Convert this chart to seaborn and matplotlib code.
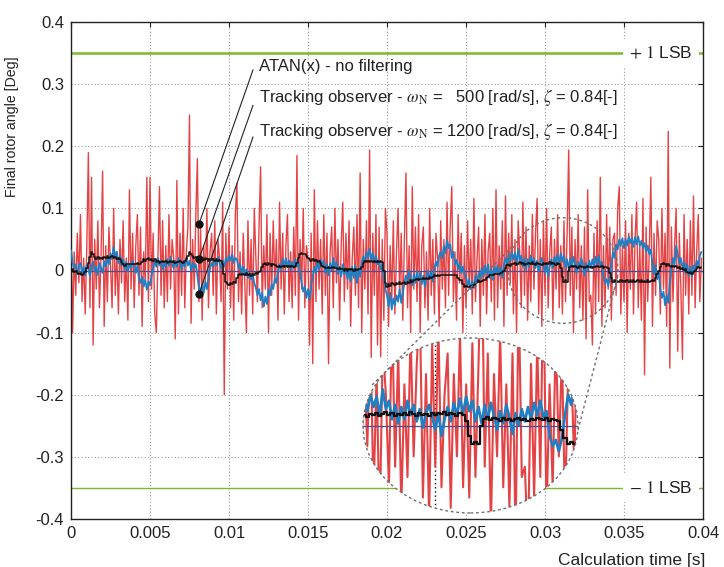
import numpy as np
import pandas as pd
import matplotlib
matplotlib.use("Agg")
import matplotlib.pyplot as plt
import seaborn as sns
from matplotlib.patches import Ellipse
from matplotlib.lines import Line2D

# ---------------- data (one row = 1 ms, 0.1 ms samples) -------------
atan_no_filter = [
    0.07, -0.10, 0.03, -0.04, 0.06, -0.02, 0.09, -0.05, 0.02, -0.07,
    0.04, 0.19, -0.06, 0.15, -0.12, 0.05, -0.03, 0.08, -0.06, 0.02,
    0.16, -0.09, 0.04, -0.05, 0.07, 0.01, -0.06, 0.10, -0.04, 0.03,
    -0.07, 0.05, -0.02, 0.08, -0.05, 0.02, -0.08, 0.13, -0.03, 0.06,
    -0.06, 0.04, 0.09, -0.04, 0.07, -0.09, 0.03, -0.02, 0.15, -0.05,
    0.15, -0.03, 0.06, -0.07, -0.10, 0.02, 0.135, -0.04, 0.08, -0.06,
    0.04, -0.05, 0.09, -0.03, 0.05, 0.02, -0.11, 0.145, -0.07, 0.06,
    -0.04, 0.10, -0.06, 0.03, 0.07, 0.25, -0.085, 0.05, -0.03, 0.09,
    0.18, -0.05, 0.07, -0.08, 0.04, -0.02, 0.10, -0.06, 0.03, 0.06,
    -0.04, 0.08, -0.07, 0.05, 0.02, -0.05, 0.11, -0.20, 0.06, -0.03,
    0.07, -0.06, 0.04, -0.08, 0.09, 0.14, -0.05, 0.03, -0.07, 0.06,
    -0.02, -0.10, 0.08, -0.04, 0.05, -0.07, 0.10, 0.02, -0.05, 0.07,
    0.167, -0.06, 0.04, -0.03, 0.09, -0.10, 0.06, -0.04, 0.08, -0.02,
    0.05, -0.08, 0.11, -0.03, 0.06, -0.07, 0.04, 0.09, -0.05, 0.03,
    -0.06, 0.07, -0.04, 0.185, -0.08, 0.05, -0.03, 0.10, -0.06, 0.04,
    0.02, -0.12, 0.06, -0.15, 0.13, -0.05, 0.08, -0.03, 0.05, -0.07,
    0.09, -0.04, 0.06, -0.15, 0.03, 0.07, -0.06, 0.10, -0.02, 0.05,
    -0.08, 0.04, 0.11, -0.05, 0.06, -0.03, 0.08, -0.09, 0.02, 0.07,
    -0.04, 0.09, -0.06, 0.157, -0.10, 0.05, -0.03, 0.08, -0.07, 0.194,
    -0.14, 0.06, -0.04, 0.09, -0.12, 0.07, -0.139, 0.05, -0.08, 0.10,
    0.06, -0.09, 0.04, -0.05, 0.08, -0.07, 0.03, 0.10, -0.04, 0.06,
    -0.08, 0.05, 0.157, -0.06, 0.04, -0.10, 0.135, -0.03, 0.07, -0.05,
    0.09, -0.10, 0.04, 0.07, -0.06, 0.03, -0.08, 0.10, -0.04, 0.05,
    -0.07, 0.06, 0.02, -0.09, 0.08, -0.03, 0.05, -0.06, 0.11, -0.04,
    0.07, 0.135, -0.05, 0.03, -0.08, 0.09, -0.02, 0.06, -0.10, 0.04,
    -0.06, 0.08, -0.03, 0.05, -0.07, 0.116, -0.05, 0.02, 0.07, -0.09,
    0.05, -0.04, 0.09, -0.07, 0.03, 0.06, -0.05, 0.10, -0.08, 0.13,
    -0.06, 0.04, -0.03, 0.08, -0.09, 0.12, -0.04, 0.06, -0.02, 0.09,
    -0.07, 0.05, -0.10, 0.08, 0.03, -0.06, 0.11, -0.04, 0.07, -0.08,
    0.04, -0.05, 0.09, -0.03, 0.06, 0.116, -0.07, 0.05, -0.09, 0.08,
    -0.04, 0.10, -0.06, 0.03, 0.07, -0.08, 0.05, -0.03, 0.09, -0.06,
    0.04, -0.07, 0.08, -0.05, 0.06, 0.194, -0.04, 0.07, -0.10, 0.05,
    -0.03, 0.09, -0.06, 0.04, -0.08, 0.07, -0.11, 0.13, -0.05, -0.04,
    -0.12, 0.06, -0.07, 0.08, -0.05, 0.15, -0.09, 0.04, -0.06, 0.09,
    -0.03, 0.07, -0.08, 0.05, 0.06, -0.04, 0.10, 0.135, -0.07, 0.04,
    -0.05, 0.08, -0.10, 0.06, -0.03, 0.09, -0.07, 0.05, 0.11, -0.06,
    0.04, -0.08, 0.116, -0.168, 0.07, -0.05, 0.03, 0.15, -0.09, 0.06,
    -0.04, 0.08, 0.05, -0.07, 0.10, -0.03, 0.06, -0.09, 0.224, -0.157,
    0.07, -0.05, 0.04, 0.10, -0.13, 0.06, -0.03, -0.143, 0.09, -0.04,
    0.05, -0.07, 0.08, -0.04, 0.12, -0.06, 0.03, 0.09, -0.05, 0.02,
]

observer_1200 = [
    0.033, 0.012, 0.004, 0.010, -0.006, 0.008, 0.012, -0.004, 0.006, -0.008,
    0.010, 0.002, -0.009, 0.008, 0.014, -0.002, 0.006, -0.007, 0.012, 0.004,
    -0.004, 0.015, 0.006, 0.020, 0.010, 0.028, 0.018, 0.038, 0.022, 0.030,
    0.012, 0.024, 0.008, 0.018, 0.002, 0.014, -0.002, 0.010, 0.004, 0.016,
    0.006, -0.004, 0.008, -0.012, -0.020, -0.010, -0.026, -0.015, -0.031, -0.018,
    -0.024, -0.008, 0.004, 0.015, 0.006, 0.020, 0.008, 0.016, 0.002, 0.012,
    0.005, 0.018, 0.008, 0.022, 0.010, 0.004, 0.016, 0.006, 0.020, 0.012,
    0.002, 0.014, 0.006, 0.020, 0.008, 0.016, 0.000, 0.012, 0.004, 0.010,
    -0.008, -0.030, -0.038, -0.022, -0.036, -0.018, -0.030, -0.010, 0.004, 0.012,
    0.006, 0.018, 0.008, 0.022, 0.012, 0.004, 0.016, 0.006, 0.020, 0.014,
    0.024, 0.016, 0.026, 0.012, 0.020, 0.018, 0.004, 0.010, -0.004, 0.006,
    -0.008, 0.002, -0.012, -0.004, -0.014, -0.006, -0.020, -0.028, -0.040, -0.030,
    -0.048, -0.036, -0.058, -0.042, -0.054, -0.030, -0.040, -0.022, -0.030, -0.012,
    -0.020, -0.004, 0.010, 0.002, 0.018, 0.008, 0.020, 0.006, 0.016, 0.002,
    0.014, 0.004, 0.018, 0.006, 0.012, -0.004, -0.020, -0.034, -0.026, -0.044,
    -0.030, -0.047, -0.024, -0.010, 0.006, -0.004, 0.014, 0.002, 0.018, 0.006,
    0.016, -0.004, 0.010, -0.008, 0.012, 0.000, 0.020, 0.004, 0.014, -0.006,
    0.006, -0.010, 0.010, -0.006, 0.004, -0.014, 0.002, -0.018, 0.006, -0.012,
    0.008, -0.020, 0.004, -0.010, 0.012, 0.022, 0.014, 0.030, 0.020, 0.035,
    0.018, 0.028, 0.012, 0.024, 0.010, 0.016, 0.002, 0.010, -0.010, -0.030,
    -0.040, -0.058, -0.036, -0.063, -0.045, -0.056, -0.040, -0.050, -0.030, -0.052,
    -0.036, -0.020, -0.008, -0.018, 0.000, -0.012, -0.024, -0.006, -0.020, -0.002,
    -0.016, -0.004, -0.022, -0.008, -0.026, -0.010, 0.000, -0.014, -0.002, -0.018,
    0.004, 0.014, 0.006, 0.024, 0.030, 0.020, 0.040, 0.028, 0.049, 0.036,
    0.042, 0.020, 0.030, 0.010, 0.017, 0.002, 0.012, -0.004, 0.006, -0.006,
    -0.010, -0.024, -0.014, -0.030, -0.018, -0.028, -0.008, -0.020, -0.004, -0.014,
    0.004, -0.010, 0.008, -0.006, 0.010, -0.012, 0.002, -0.015, 0.006, -0.004,
    0.008, -0.008, 0.004, -0.012, 0.010, 0.020, 0.008, 0.026, 0.014, 0.030,
    0.018, 0.028, 0.010, 0.035, 0.016, 0.024, 0.006, 0.020, 0.002, 0.018,
    0.006, 0.024, 0.010, 0.020, 0.004, 0.016, -0.002, 0.012, 0.020, 0.008,
    -0.004, 0.012, -0.010, 0.006, 0.018, 0.004, 0.022, 0.010, 0.026, 0.012,
    0.028, 0.014, 0.024, 0.004, 0.018, 0.002, 0.020, 0.006, 0.022, 0.010,
    -0.004, 0.014, 0.002, 0.020, 0.008, -0.008, 0.012, 0.000, 0.016, 0.004,
    0.018, 0.006, 0.022, 0.010, 0.024, 0.008, 0.014, -0.010, -0.020, -0.014,
    -0.025, -0.012, 0.010, 0.030, 0.020, 0.042, 0.034, 0.050, 0.040, 0.052,
    0.036, 0.050, 0.040, 0.055, 0.044, 0.052, 0.038, 0.054, 0.042, 0.055,
    0.040, 0.048, 0.036, 0.044, 0.030, 0.040, 0.026, 0.034, 0.010, -0.006,
    0.008, -0.014, -0.004, -0.030, -0.044, -0.034, -0.056, -0.040, -0.052, -0.020,
    0.004, 0.020, 0.010, 0.040, 0.026, 0.012, 0.020, 0.004, 0.014, -0.004,
    0.010, -0.008, 0.006, -0.010, 0.008, 0.002, 0.016, 0.006, 0.024, 0.030,
]

observer_500 = [
    0.000, 0.002, -0.002, 0.000, -0.004, -0.006, -0.004, -0.007, -0.005, -0.002,
    0.004, 0.012, 0.022, 0.029, 0.026, 0.022, 0.019, 0.021, 0.018, 0.020,
    0.019, 0.022, 0.020, 0.023, 0.020, 0.021, 0.024, 0.020, 0.022, 0.019,
    0.020, 0.018, 0.014, 0.010, 0.008, 0.010, 0.010, 0.010, 0.010, 0.010,
    0.010, 0.010, 0.012, 0.010, 0.010, 0.014, 0.018, 0.016, 0.018, 0.020,
    0.017, 0.019, 0.016, 0.018, 0.014, 0.016, 0.012, 0.014, 0.016, 0.013,
    0.015, 0.012, 0.014, 0.016, 0.013, 0.015, 0.012, 0.014, 0.013, 0.016,
    0.014, 0.012, 0.015, 0.018, 0.024, 0.030, 0.027, 0.024, 0.020, 0.022,
    0.019, 0.021, 0.018, 0.020, 0.017, 0.020, 0.018, 0.016, 0.019, 0.017,
    0.019, 0.016, 0.018, 0.015, 0.017, 0.016, 0.010, -0.006, -0.018, -0.022,
    -0.024, -0.020, -0.022, -0.018, -0.020, -0.012, -0.008, -0.006, -0.008, -0.005,
    -0.007, -0.004, -0.008, -0.006, -0.009, -0.006, -0.008, -0.004, -0.006, -0.003,
    0.000, 0.006, 0.010, 0.012, 0.009, 0.012, 0.010, 0.008, 0.011, 0.009,
    0.008, 0.006, 0.008, 0.006, 0.007, 0.005, 0.007, 0.006, 0.008, 0.006,
    0.007, 0.005, 0.008, 0.012, 0.020, 0.026, 0.028, 0.026, 0.027, 0.024,
    0.020, 0.018, 0.016, 0.018, 0.015, 0.017, 0.014, 0.016, 0.012, 0.008,
    0.005, 0.004, 0.004, 0.006, 0.004, 0.004, 0.005, 0.004, 0.004, 0.003,
    0.004, 0.002, 0.003, 0.000, 0.002, 0.000, 0.003, 0.001, 0.002, 0.000,
    0.002, 0.001, 0.003, 0.002, 0.006, 0.012, 0.015, 0.014, 0.016, 0.014,
    0.015, 0.013, 0.016, 0.014, 0.015, 0.013, 0.015, 0.014, 0.000, -0.020,
    -0.026, -0.022, -0.025, -0.020, -0.022, -0.024, -0.020, -0.022, -0.019, -0.021,
    -0.020, -0.018, -0.021, -0.019, -0.020, -0.016, -0.018, -0.015, -0.016, -0.014,
    -0.015, -0.013, -0.014, -0.012, -0.014, -0.012, -0.013, -0.011, -0.012, -0.010,
    -0.008, -0.009, -0.007, -0.009, -0.007, -0.008, -0.007, -0.008, -0.007, -0.008,
    -0.007, -0.008, -0.007, -0.008, -0.007, -0.012, -0.016, -0.015, -0.022, -0.026,
    -0.025, -0.027, -0.026, -0.025, -0.027, -0.024, -0.020, -0.018, -0.016, -0.018,
    -0.017, -0.015, -0.016, -0.012, -0.010, -0.008, -0.007, -0.008, -0.006, -0.005,
    -0.006, -0.005, -0.004, -0.002, 0.000, 0.004, 0.009, 0.010, 0.008, 0.011,
    0.010, 0.012, 0.009, 0.011, 0.013, 0.010, 0.012, 0.009, 0.011, 0.010,
    0.012, 0.010, 0.013, 0.011, 0.009, 0.012, 0.010, 0.011, 0.009, 0.012,
    0.010, 0.012, 0.011, 0.013, 0.010, 0.012, 0.011, 0.009, 0.012, 0.010,
    0.004, -0.010, -0.018, -0.016, -0.018, 0.000, 0.006, 0.008, 0.005, 0.007,
    0.006, 0.004, 0.007, 0.005, 0.006, 0.004, 0.006, 0.007, 0.005, 0.006,
    0.004, 0.006, 0.005, 0.007, 0.006, 0.005, 0.007, 0.004, 0.006, 0.005,
    0.004, -0.004, -0.012, -0.018, -0.016, -0.018, -0.017, -0.019, -0.016, -0.018,
    -0.017, -0.019, -0.016, -0.018, -0.015, -0.018, -0.016, -0.019, -0.017, -0.015,
    -0.018, -0.016, -0.019, -0.017, -0.018, -0.016, -0.018, -0.017, -0.015, -0.017,
    -0.012, -0.006, 0.000, 0.006, 0.010, 0.012, 0.010, 0.008, 0.010, 0.008,
    0.006, 0.008, 0.005, 0.007, 0.004, 0.006, 0.002, 0.004, 0.001, 0.003,
    -0.002, -0.004, -0.003, -0.005, -0.002, 0.000, 0.003, 0.005, 0.004, 0.006,
]

sample_period_s = 1e-4
time_s = np.arange(len(atan_no_filter)) * sample_period_s

x_ticks = [0, 0.005, 0.01, 0.015, 0.02, 0.025, 0.03, 0.035, 0.04]
x_tick_labels = ["0", "0.005", "0.01", "0.015", "0.02", "0.025", "0.03", "0.035", "0.04"]
y_ticks = [-0.4, -0.3, -0.2, -0.1, 0, 0.1, 0.2, 0.3, 0.4]
y_tick_labels = ["-0.4", "-0.3", "-0.2", "-0.1", "0", "0.1", "0.2", "0.3", "0.4"]
lsb_level = 0.35

series_labels = [
    "ATAN(x) - no filtering",
    r"Tracking observer - $\omega_{\mathrm{N}}$ =   500 [rad/s], $\zeta$ = 0.84[-]",
    r"Tracking observer - $\omega_{\mathrm{N}}$ = 1200 [rad/s], $\zeta$ = 0.84[-]",
]
marker_time = 0.0081
marker_values = [0.0749, 0.0185, -0.0378]

# zoom window (small dashed circle)
zoom_center_t = 0.03114
zoom_half_t = 0.00348
zoom_half_v = 0.085

# ---------------- style -------------
sns.set_theme(style="white")
plt.rcParams["font.family"] = ["Liberation Sans", "DejaVu Sans"]
plt.rcParams["mathtext.fontset"] = "stix"
plt.rcParams["axes.unicode_minus"] = False

RED = "#e3393b"
BLUE = "#1f7fc4"
BLACK = "#111111"
ZERO = "#4b4b95"
GREEN = "#7cb82a"

df = pd.DataFrame({"t": time_s, "atan": atan_no_filter,
                   "obs500": observer_500, "obs1200": observer_1200})

W, H = 724, 567
fig = plt.figure(figsize=(W / 100, H / 100), dpi=100)
ax = fig.add_axes([71 / W, 1 - 519 / H, 632 / W, 497 / H])


def draw_series(a, scale=1.0):
    sns.lineplot(data=df, x="t", y="atan", ax=a, color=RED, linewidth=1.0 * scale,
                 estimator=None, sort=False, zorder=2, alpha=0.95)
    a.axhline(0, color=ZERO, lw=0.9, zorder=3)
    sns.lineplot(data=df, x="t", y="obs1200", ax=a, color=BLUE, linewidth=1.3 * scale,
                 estimator=None, sort=False, zorder=4)
    sns.lineplot(data=df, x="t", y="obs500", ax=a, color=BLACK, linewidth=1.1 * scale,
                 estimator=None, sort=False, zorder=5, drawstyle="steps-mid")


draw_series(ax)

ax.set_xlim(0, 0.04)
ax.set_ylim(-0.4, 0.4)
ax.set_xticks(x_ticks)
ax.set_xticklabels(x_tick_labels)
ax.set_yticks(y_ticks)
ax.set_yticklabels(y_tick_labels)
ax.tick_params(direction="in", length=3.5, width=0.8, top=True, right=True,
               labelsize=12, colors="#222222", pad=5)
ax.grid(True, color="#9a9a9a", ls=(0, (1, 2)), lw=0.8, zorder=0)
for s in ax.spines.values():
    s.set_color("#222222")
    s.set_linewidth(1.0)

ax.set_xlabel("Calculation time [s]", fontsize=12.5, color="#222222", ha="right")
ax.xaxis.set_label_coords(1.003, -0.068)
ax.set_ylabel("Final rotor angle [Deg]", fontsize=10.2, color="#222222")
ax.yaxis.set_label_coords(-0.083, 0.79)

# LSB levels
ax.axhline(lsb_level, color=GREEN, lw=1.8, zorder=1)
ax.axhline(-lsb_level, color=GREEN, lw=1.0, zorder=1)
ax.text(0.03734, lsb_level, r"$+\ 1$ LSB", fontsize=12.5, ha="center", va="center",
        color="#222222", zorder=7,
        bbox=dict(boxstyle="square,pad=0.35", fc="white", ec="none"))
ax.text(0.03734, -lsb_level, r"$-\ 1$ LSB", fontsize=12.5, ha="center", va="center",
        color="#222222", zorder=7,
        bbox=dict(boxstyle="square,pad=0.35", fc="white", ec="none"))

# annotations
text_t = 0.0119
text_v = [0.329, 0.278, 0.223]
line_start_v = [0.323, 0.266, 0.215]
for lab, tv, sv, mv in zip(series_labels, text_v, line_start_v, marker_values):
    ax.text(text_t, tv, lab, fontsize=12, ha="left", va="center", color="#222222", zorder=8)
    ax.plot([0.01152, marker_time], [sv, mv], color="#222222", lw=0.8, zorder=8)
ax.plot([marker_time] * 3, marker_values, "o", color="#111111", ms=5, zorder=9)

# small dashed zoom circle
ax.add_patch(Ellipse((zoom_center_t, 0.0), 2 * zoom_half_t, 2 * zoom_half_v, fill=False,
                     ec="#6f6f6f", ls=(0, (2, 2)), lw=1.0, zorder=9))

# connector lines (figure pixels)
for (x1, y1), (x2, y2) in [((372, 385), (512, 247)), ((578, 430), (618, 275))]:
    fig.add_artist(Line2D([x1 / W, x2 / W], [1 - y1 / H, 1 - y2 / H],
                          transform=fig.transFigure, color="#6f6f6f",
                          ls=(0, (2, 2)), lw=1.0))

# magnified inset clipped to an ellipse
axin = fig.add_axes([363 / W, 1 - 513 / H, 215 / W, 175 / H])
axin.set_xlim(zoom_center_t - zoom_half_t, zoom_center_t + zoom_half_t)
axin.set_ylim(-zoom_half_v, zoom_half_v)
bg = Ellipse((0.5, 0.5), 1, 1, transform=axin.transAxes, fc="white", ec="none", zorder=0)
axin.add_patch(bg)
axin.axvline(0.03, color="#111111", ls=(0, (1, 2)), lw=1.0, zorder=1)
draw_series(axin, scale=1.5)
axin.set_xlim(zoom_center_t - zoom_half_t, zoom_center_t + zoom_half_t)
axin.set_ylim(-zoom_half_v, zoom_half_v)
for ln in axin.lines:
    ln.set_clip_path(bg)
axin.axis("off")
axin.add_patch(Ellipse((0.5, 0.5), 1, 1, transform=axin.transAxes, fill=False,
                       ec="#6f6f6f", ls=(0, (2, 2)), lw=1.0, clip_on=False, zorder=10))

fig.savefig("out.png", dpi=100)
